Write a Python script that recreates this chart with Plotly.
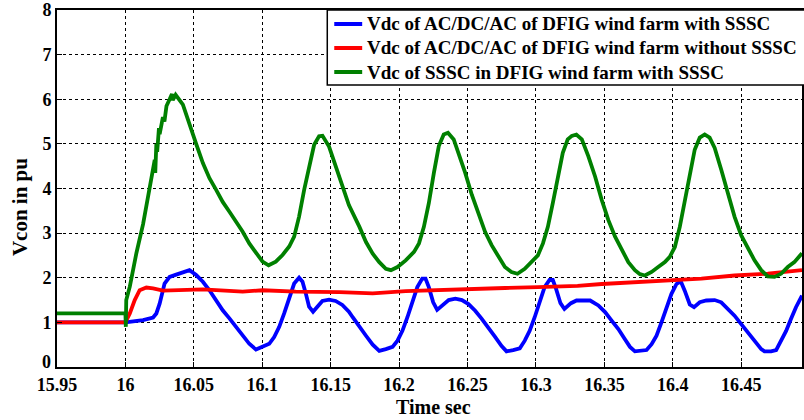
import plotly.graph_objects as go

# Time axis (s) and DC-link voltages (pu)
blue_t = [15.95, 16.0, 16.0129, 16.0202, 16.0226, 16.025, 16.0286, 16.0323, 16.0371, 16.042,
          16.0468, 16.0517, 16.0566, 16.0614, 16.0663, 16.0711, 16.076, 16.0808, 16.0857, 16.0905,
          16.0954, 16.1002, 16.1051, 16.1087, 16.1124, 16.116, 16.1197, 16.1233, 16.1269, 16.1294,
          16.1318, 16.1342, 16.1371, 16.1403, 16.1439, 16.1488, 16.1536, 16.1585, 16.1633, 16.1662,
          16.171, 16.1758, 16.1807, 16.1855, 16.1903, 16.1952, 16.1988, 16.2024, 16.206, 16.2097,
          16.2133, 16.2169, 16.2193, 16.2217, 16.2249, 16.2278, 16.2314, 16.2362, 16.2411, 16.2459,
          16.2507, 16.2556, 16.2604, 16.2652, 16.27, 16.2749, 16.2785, 16.2833, 16.2882, 16.2918,
          16.2954, 16.299, 16.3027, 16.3063, 16.3099, 16.3123, 16.3147, 16.3179, 16.3208, 16.3256,
          16.3296, 16.3335, 16.3396, 16.3456, 16.3505, 16.3553, 16.3602, 16.365, 16.3687, 16.3723,
          16.3772, 16.3808, 16.3845, 16.3881, 16.3917, 16.3954, 16.399, 16.4027, 16.4058, 16.4087,
          16.4124, 16.4155, 16.4197, 16.4245, 16.4306, 16.4354, 16.4403, 16.4451, 16.45, 16.4549,
          16.4597, 16.4646, 16.467, 16.4718, 16.4755, 16.4791, 16.4828, 16.4864, 16.49, 16.4944]
blue_v = [1.0, 1.0, 1.05, 1.11, 1.2, 1.42, 1.87, 2.02, 2.07, 2.11,
          2.17, 2.06, 1.91, 1.72, 1.5, 1.27, 1.09, 0.9, 0.71, 0.52,
          0.39, 0.45, 0.52, 0.67, 0.9, 1.2, 1.54, 1.87, 2.0, 1.91,
          1.65, 1.35, 1.24, 1.35, 1.48, 1.51, 1.48, 1.39, 1.24, 1.11,
          0.92, 0.7, 0.5, 0.36, 0.4, 0.45, 0.59, 0.81, 1.11, 1.45,
          1.79, 1.98, 1.98, 1.79, 1.45, 1.28, 1.38, 1.5, 1.53, 1.5,
          1.41, 1.26, 1.08, 0.89, 0.68, 0.47, 0.35, 0.38, 0.42, 0.59,
          0.81, 1.11, 1.45, 1.79, 1.95, 1.95, 1.75, 1.43, 1.3, 1.43,
          1.49, 1.49, 1.49, 1.38, 1.23, 1.04, 0.85, 0.62, 0.45, 0.35,
          0.36, 0.38, 0.51, 0.7, 1.0, 1.34, 1.64, 1.86, 1.92, 1.71,
          1.4, 1.34, 1.45, 1.49, 1.5, 1.45, 1.3, 1.15, 0.96, 0.77,
          0.59, 0.4, 0.35, 0.35, 0.38, 0.59, 0.81, 1.08, 1.34, 1.6]

red_t = [15.95, 16.0, 16.0032, 16.0068, 16.0104, 16.0153, 16.0202, 16.0274, 16.0566, 16.0857,
         16.1002, 16.1245, 16.1565, 16.1807, 16.2048, 16.229, 16.2531, 16.2773, 16.3014, 16.3304,
         16.3481, 16.3723, 16.3966, 16.4209, 16.4451, 16.4694, 16.4944]
red_v = [1.0, 1.0, 1.2, 1.5, 1.72, 1.78, 1.76, 1.71, 1.74, 1.69,
         1.72, 1.69, 1.68, 1.65, 1.7, 1.73, 1.75, 1.77, 1.79, 1.82,
         1.86, 1.9, 1.95, 1.98, 2.05, 2.09, 2.17]

# the first overshoot carries a fast ripple between about 16.021 s and 16.04 s
green_t = [15.95, 16.0, 16.0003, 16.0006, 16.0032, 16.008, 16.0129, 16.0177, 16.0214, 16.0218,
           16.0222, 16.0226, 16.0232, 16.0245, 16.025, 16.0274, 16.0285, 16.03, 16.0323, 16.034,
           16.0346, 16.0367, 16.042, 16.0468, 16.0517, 16.0566, 16.0614, 16.0663, 16.0711,
           16.076, 16.0808, 16.0857, 16.0905, 16.0954, 16.1002, 16.1046, 16.1099, 16.1148, 16.1197,
           16.1233, 16.1269, 16.1306, 16.1342, 16.1379, 16.1415, 16.144, 16.1488, 16.1536, 16.1585,
           16.1633, 16.171, 16.1758, 16.1807, 16.1855, 16.1903, 16.194, 16.1988, 16.2048, 16.2109,
           16.2145, 16.2181, 16.2217, 16.2254, 16.229, 16.2326, 16.2357, 16.2399, 16.2435, 16.2483,
           16.2531, 16.258, 16.2628, 16.2676, 16.2725, 16.2773, 16.2821, 16.2865, 16.2918, 16.2966,
           16.3014, 16.3051, 16.3087, 16.3123, 16.316, 16.3196, 16.3232, 16.3262, 16.3295, 16.3335,
           16.3383, 16.3432, 16.3481, 16.3529, 16.3578, 16.3626, 16.3675, 16.3723, 16.376, 16.3796,
           16.3845, 16.3893, 16.3942, 16.3978, 16.4015, 16.4051, 16.4087, 16.4124, 16.416, 16.4197,
           16.4233, 16.4269, 16.4306, 16.4354, 16.4403, 16.4451, 16.45, 16.4549, 16.4597, 16.4646,
           16.4694, 16.4743, 16.4791, 16.484, 16.4888, 16.4944]
green_v = [1.2, 1.2, 0.9, 1.5, 1.8, 2.55, 3.2, 3.97, 4.64, 4.35,
           4.9, 5.0, 4.82, 5.35, 5.22, 5.6, 5.5, 5.85, 6.0, 6.12,
           5.98, 6.1, 5.88, 5.47, 5.0, 4.57, 4.23, 3.97, 3.7,
           3.48, 3.26, 3.03, 2.77, 2.55, 2.36, 2.28, 2.36, 2.51, 2.7,
           2.92, 3.37, 3.97, 4.49, 4.98, 5.17, 5.18, 4.94, 4.49, 4.04,
           3.63, 3.14, 2.8, 2.54, 2.35, 2.2, 2.17, 2.24, 2.39, 2.58,
           2.77, 3.14, 3.67, 4.35, 4.95, 5.21, 5.25, 5.1, 4.8, 4.35,
           3.86, 3.41, 3.03, 2.73, 2.47, 2.24, 2.13, 2.09, 2.2, 2.35,
           2.5, 2.77, 3.14, 3.67, 4.27, 4.8, 5.1, 5.18, 5.21, 5.1,
           4.72, 4.27, 3.74, 3.29, 2.92, 2.62, 2.35, 2.17, 2.08, 2.05,
           2.13, 2.24, 2.35, 2.47, 2.69, 3.14, 3.74, 4.35, 4.87, 5.14,
           5.21, 5.14, 4.91, 4.42, 3.89, 3.37, 2.95, 2.65, 2.39, 2.17,
           2.03, 2.02, 2.09, 2.24, 2.35, 2.55]

x_ticks = [15.95, 16.0, 16.05, 16.1, 16.15, 16.2, 16.25, 16.3, 16.35, 16.4, 16.45]
x_tick_text = ["15.95", "16", "16.05", "16.1", "16.15", "16.2", "16.25", "16.3", "16.35", "16.4", "16.45"]
y_ticks = [0, 1, 2, 3, 4, 5, 6, 7, 8]
y_tick_text = ["", "1", "2", "3", "4", "5", "6", "7", "8"]  # "0" is set just above the corner

series_names = [
    "Vdc of AC/DC/AC of DFIG wind farm with SSSC",
    "Vdc of AC/DC/AC of DFIG wind farm without SSSC",
    "Vdc of SSSC in DFIG wind farm with SSSC",
]
series_colors = ["#0000ff", "#ff0000", "#008000"]

FONT = "Liberation Serif, Times New Roman, serif"

# plot area in pixels
L, R, T, B = 57, 804, 10, 367
W, H = R - L, B - T


def px_x(p):
    return (p - L) / W


def px_y(p):
    return (B - p) / H


fig = go.Figure()
for t, v, name, color in zip([blue_t, red_t, green_t], [blue_v, red_v, green_v],
                             series_names, series_colors):
    fig.add_trace(go.Scatter(x=t, y=v, mode="lines", name=name, showlegend=False,
                             line=dict(color=color, width=3.8)))

tick_font = dict(family=FONT, size=18, color="black", weight="bold")
axis_common = dict(
    showline=True, linecolor="black", linewidth=2, mirror=True,
    showgrid=True, gridcolor="black", gridwidth=1, griddash="dot",
    ticks="inside", ticklen=5, tickcolor="black", tickwidth=1,
    zeroline=False,
    tickfont=tick_font,
)

# boxed legend in the upper right corner
shapes = [dict(type="rect", xref="paper", yref="paper",
               x0=px_x(328), x1=px_x(812), y0=px_y(85), y1=1.0,
               line=dict(color="black", width=1.5), fillcolor="white", layer="above")]
annotations = []
for i, (name, color) in enumerate(zip(series_names, series_colors)):
    row_y = px_y(24 + 24 * i)
    shapes.append(dict(type="line", xref="paper", yref="paper",
                       x0=px_x(335), x1=px_x(363), y0=row_y, y1=row_y,
                       line=dict(color=color, width=4), layer="above"))
    annotations.append(dict(xref="paper", yref="paper", x=px_x(366), y=row_y,
                            xanchor="left", yanchor="middle", showarrow=False,
                            text=name,
                            font=dict(family=FONT, size=19, color="black", weight="bold")))

# zero label of the y axis, lifted a little off the corner
annotations.append(dict(xref="paper", yref="paper", x=px_x(53), y=px_y(362),
                        xanchor="right", yanchor="middle", showarrow=False,
                        text="0", font=tick_font))

# axis titles
annotations.append(dict(xref="paper", yref="paper", x=px_x(435), y=px_y(407),
                        xanchor="center", yanchor="middle", showarrow=False,
                        text="Time sec",
                        font=dict(family=FONT, size=20, color="black", weight="bold")))
annotations.append(dict(xref="paper", yref="paper", x=px_x(20), y=px_y(207),
                        xanchor="center", yanchor="middle", showarrow=False,
                        text="Vcon in pu", textangle=-90,
                        font=dict(family=FONT, size=21, color="black", weight="bold")))

fig.update_layout(
    width=804, height=420,
    margin=dict(l=L, r=0, t=T, b=420 - B),
    paper_bgcolor="white", plot_bgcolor="white",
    showlegend=False,
    shapes=shapes,
    annotations=annotations,
    xaxis=dict(range=[15.95, 16.4944], tickvals=x_ticks, ticktext=x_tick_text,
               ticklabelstandoff=0, **axis_common),
    yaxis=dict(range=[0, 8], tickvals=y_ticks, ticktext=y_tick_text, **axis_common),
)

fig.write_html("out.html")
